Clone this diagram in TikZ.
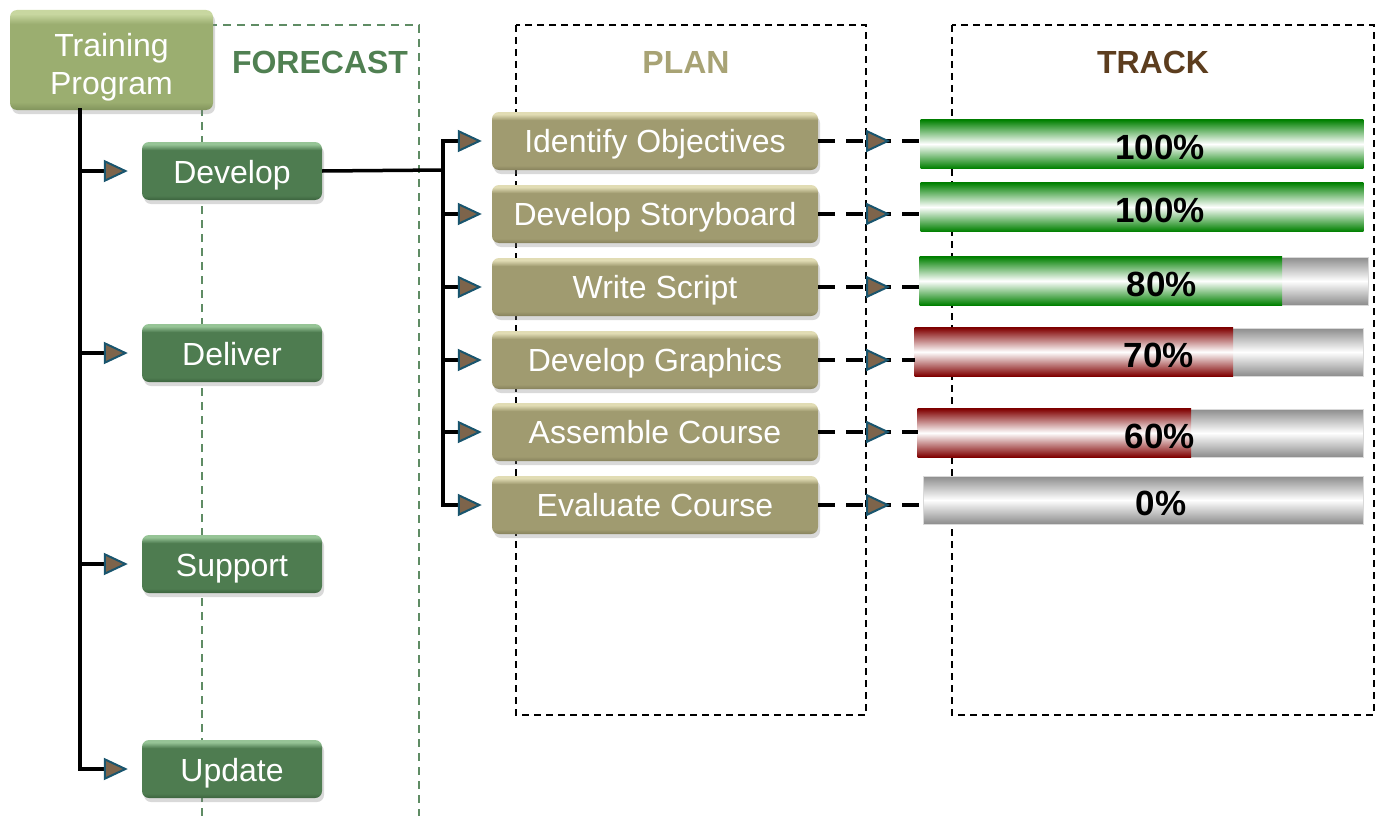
\documentclass[tikz,border=0pt]{standalone}
\usepackage{fontspec}
\setmainfont{Liberation Sans}
\usetikzlibrary{arrows.meta,shadows,decorations.markings}
\definecolor{gbase}{RGB}{78,124,80}
\definecolor{glight}{RGB}{150,196,150}
\definecolor{gdark}{RGB}{60,100,62}
\definecolor{tbase}{RGB}{155,174,112}
\definecolor{tlight}{RGB}{200,215,160}
\definecolor{tdark}{RGB}{130,148,92}
\definecolor{kbase}{RGB}{160,155,112}
\definecolor{klight}{RGB}{225,220,180}
\definecolor{kdark}{RGB}{135,130,92}
\definecolor{fcgreen}{RGB}{80,128,82}
\definecolor{fcdash}{RGB}{95,140,100}
\definecolor{plancol}{RGB}{168,163,117}
\definecolor{trackcol}{RGB}{92,61,30}
\definecolor{arrbrown}{RGB}{125,100,75}
\definecolor{arrteal}{RGB}{25,85,110}
\definecolor{bgreen}{RGB}{0,128,0}
\definecolor{bred}{RGB}{128,0,0}
\definecolor{bgrey}{RGB}{140,140,140}
\pgfdeclareverticalshading{gshade}{100bp}{color(0bp)=(gdark); color(25bp)=(gdark); color(29bp)=(gbase); color(68bp)=(gbase); color(73bp)=(glight); color(100bp)=(glight)}
\pgfdeclareverticalshading{tshade}{100bp}{color(0bp)=(tdark); color(25bp)=(tdark); color(29bp)=(tbase); color(68bp)=(tbase); color(73bp)=(tlight); color(100bp)=(tlight)}
\pgfdeclareverticalshading{kshade}{100bp}{color(0bp)=(kdark); color(25bp)=(kdark); color(29bp)=(kbase); color(68bp)=(kbase); color(73bp)=(klight); color(100bp)=(klight)}
\tikzset{
  boxbase/.style={rounded corners=7pt, text=white, font=\fontsize{32}{38}\selectfont,
    drop shadow={shadow xshift=2pt, shadow yshift=-4pt, opacity=0.3}, inner sep=0pt},
  tpbox/.style={boxbase, shading=tshade, minimum width=203pt, minimum height=100pt, align=center},
  gbox/.style={boxbase, shading=gshade, minimum width=180pt, minimum height=58pt, text height=26pt, text depth=2pt},
  kbox/.style={boxbase, shading=kshade, minimum width=326pt, minimum height=58pt, text height=25pt, text depth=2pt},
  lbl/.style={font=\fontsize{32}{38}\selectfont\bfseries},
  pct/.style={font=\fontsize{35}{40}\selectfont\bfseries, text=black},
  barbase/.style={draw=white!85!black, line width=0.6pt, minimum height=48pt, inner sep=0pt},
  greybar/.style={barbase, top color=bgrey, bottom color=bgrey, middle color=white},
  greenfill/.style={top color=bgreen, bottom color=bgreen, middle color=white},
  redfill/.style={top color=bred, bottom color=bred, middle color=white},
  arrtip/.tip={Triangle[length=24pt, width=22pt, fill=arrbrown, color=arrteal, line width=2pt]},
  trunk/.style={line width=3.5pt, -{arrtip}},
  dconn/.style={line width=3.5pt, dash pattern=on 17pt off 11pt,
    decoration={markings, mark=at position 72pt with {\arrow{arrtip}}},
    postaction={decorate, solid}},
}
\begin{document}
\begin{tikzpicture}[x=1pt, y=-1pt]
\useasboundingbox (0,0) rectangle (1382,816);
% frames
\draw[fcdash, line width=1.5pt, dash pattern=on 8pt off 6pt] (202,816) |- (419,25) -- (419,816);
\draw[black, line width=1.5pt, dash pattern=on 7pt off 5pt] (516,25) rectangle (866,715);
\draw[black, line width=1.5pt, dash pattern=on 7pt off 5pt] (952,25) rectangle (1374,715);
\node[lbl, text=fcgreen] (fc) at (320,62) {FORECAST};
\node[lbl, text=plancol] (pl) at (686,62) {PLAN};
\node[lbl, text=trackcol] (tr) at (1153,62) {TRACK};
% boxes
\node[tpbox] (tp) at (111.5,60) {\raisebox{-14pt}[0pt][0pt]{\begin{tabular}{@{}c@{}}Training\\Program\end{tabular}}};
\node[gbox] (dev) at (232,171) {Develop};
\node[gbox] (del) at (232,353) {Deliver};
\node[gbox] (sup) at (232,564) {Support};
\node[gbox] (upd) at (232,769) {Update};
\node[kbox] (io) at (655,141) {Identify Objectives};
\node[kbox] (ds) at (655,214) {Develop Storyboard};
\node[kbox] (ws) at (655,287) {Write Script};
\node[kbox] (dg) at (655,360) {Develop Graphics};
\node[kbox] (ac) at (655,432) {Assemble Course};
\node[kbox] (ec) at (655,505) {Evaluate Course};
% bars
\node[greybar, minimum width=442pt] (b1) at (1142,144) {};
\node[greybar, minimum width=442pt] (b2) at (1142,207) {};
\node[greybar, minimum width=448pt] (b3) at (1144,281) {};
\node[greybar, minimum width=448pt] (b4) at (1139,352) {};
\node[greybar, minimum width=445pt] (b5) at (1140.5,433) {};
\node[greybar, minimum width=440pt] (b6) at (1143,500) {};
\fill[greenfill] (b1.north west) rectangle (b1.south east);
\fill[greenfill] (b2.north west) rectangle (b2.south east);
\fill[greenfill] (b3.north west) rectangle (1282,305);
\fill[redfill] (b4.north west) rectangle (1233,376);
\fill[redfill] (b5.north west) rectangle (1191,457);
\node[pct] (p1) at (1160,147) {100\%};
\node[pct] (p2) at (1160,210) {100\%};
\node[pct] (p3) at (1162,284) {80\%};
\node[pct] (p4) at (1159,355) {70\%};
\node[pct] (p5) at (1160,436) {60\%};
\node[pct] (p6) at (1161,503) {0\%};
% connectors
\coordinate (t0) at (80,108);
\foreach \n in {dev,del,sup,upd} \draw[trunk, shorten >=14pt] (t0) |- (\n.west);
\coordinate (j) at (443,170);
\draw[line width=3.5pt] (dev.east) -- (j);
\foreach \n in {io,ds,ws,dg,ac,ec} \draw[trunk, shorten >=10pt] (j) |- (\n.west);
\draw[dconn] (io.east) -- (io.east -| b1.west);
\draw[dconn] (ds.east) -- (ds.east -| b2.west);
\draw[dconn] (ws.east) -- (ws.east -| b3.west);
\draw[dconn] (dg.east) -- (dg.east -| b4.west);
\draw[dconn] (ac.east) -- (ac.east -| b5.west);
\draw[dconn] (ec.east) -- (ec.east -| b6.west);
\end{tikzpicture}
\end{document}
